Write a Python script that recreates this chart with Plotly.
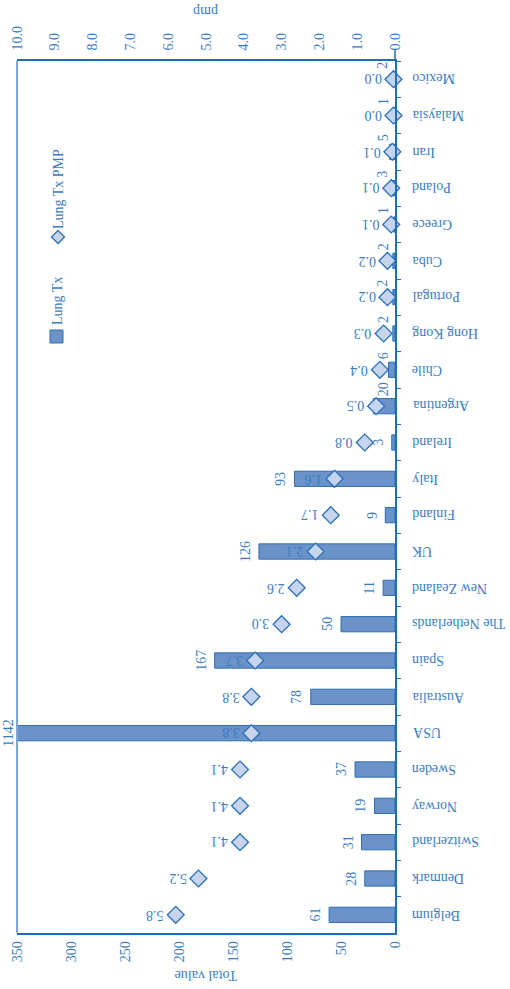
import plotly.graph_objects as go

# ---- data (top to bottom as drawn) ----
countries = ["Mexico", "Malaysia", "Iran", "Poland", "Greece", "Cuba", "Portugal",
             "Hong Kong", "Chile", "Argentina", "Ireland", "Italy", "Finland", "UK",
             "New Zealand", "The Netherlands", "Spain", "Australia", "USA", "Sweden",
             "Norway", "Switzerland", "Denmark", "Belgium"]
lung_tx = [2, 1, 5, 3, 1, 2, 2, 2, 6, 20, 3, 93, 9, 126, 11, 50, 167, 78, 1142, 37,
           19, 31, 28, 61]
lung_tx_pmp = [0.04, 0.04, 0.07, 0.1, 0.1, 0.2, 0.2, 0.3, 0.4, 0.5, 0.8, 1.6, 1.7, 2.1,
               2.6, 3.0, 3.7, 3.8, 3.8, 4.1, 4.1, 4.1, 5.2, 5.8]
total_ticks = [0, 50, 100, 150, 200, 250, 300, 350]
pmp_ticks = [0, 1, 2, 3, 4, 5, 6, 7, 8, 9, 10]

# ---- style ----
FONT = "Liberation Serif"
TXT = "#3a7cc2"
LINE = "#1f6fb8"
BAR_FILL = "#6b93c9"
BAR_LINE = "#2f6db3"
DIA_FILL = "#c6d4ee"
DIA_LINE = "#2a6fba"
FS = 14
X_MAX = 350
PMP_MAX = 10
raised = {"Mexico", "Malaysia", "Iran", "Poland", "Greece", "Cuba", "Portugal",
          "Hong Kong", "Chile", "Argentina"}
n = len(countries)

fig = go.Figure()
fig.add_trace(go.Bar(
    x=lung_tx, y=countries, orientation="h", width=0.42,
    marker=dict(color=BAR_FILL, line=dict(color=BAR_LINE, width=1)),
    name="Lung Tx", showlegend=False, hoverinfo="x+y"))
fig.add_trace(go.Scatter(
    x=lung_tx_pmp, y=countries, xaxis="x2", mode="markers",
    marker=dict(symbol="diamond", size=13, color=DIA_FILL,
                line=dict(color=DIA_LINE, width=1.3)),
    name="Lung Tx PMP", showlegend=False, cliponaxis=False))

ann = []
# category labels (upside down, right of axis)
for c in countries:
    ann.append(dict(text=c, x=1, xref="paper", y=c, yref="y", xanchor="left",
                    yanchor="middle", xshift=15, textangle=180, showarrow=False,
                    font=dict(family=FONT, size=FS, color=TXT)))
# bar value labels
for c, v in zip(countries, lung_tx):
    if c in raised:
        ann.append(dict(text=str(v), x=0, xref="x", y=c, yref="y", xanchor="center",
                        yanchor="bottom", xshift=-12, yshift=8, textangle=-90,
                        showarrow=False, font=dict(family=FONT, size=FS, color=TXT)))
    else:
        ann.append(dict(text=str(v), x=min(v, X_MAX), xref="x", y=c, yref="y",
                        xanchor="right", yanchor="middle",
                        xshift=(1 if v > X_MAX else -4), textangle=-90,
                        showarrow=False, font=dict(family=FONT, size=FS, color=TXT)))
# pmp labels
for c, p in zip(countries, lung_tx_pmp):
    ann.append(dict(text=f"{p:.1f}", x=p, xref="x2", y=c, yref="y", xanchor="right",
                    yanchor="middle", xshift=-10, textangle=180, showarrow=False,
                    font=dict(family=FONT, size=FS, color=TXT)))
# axis titles
ann.append(dict(text="Total value", x=0.5, xref="paper", y=0, yref="paper",
                yanchor="middle", yshift=-43, textangle=180, showarrow=False,
                font=dict(family=FONT, size=FS, color=TXT)))
ann.append(dict(text="pmp", x=0.5, xref="paper", y=1, yref="paper",
                yanchor="middle", yshift=49, textangle=180, showarrow=False,
                font=dict(family=FONT, size=FS, color=TXT)))
# legend texts
ann.append(dict(text="Lung Tx", x=0.1085, xref="paper", y=0.695, yref="paper",
                xanchor="center", yanchor="bottom", textangle=-90, showarrow=False,
                font=dict(family=FONT, size=FS, color=TXT)))
ann.append(dict(text="Lung Tx PMP", x=0.1085, xref="paper", y=0.805, yref="paper",
                xanchor="center", yanchor="bottom", textangle=-90, showarrow=False,
                font=dict(family=FONT, size=FS, color=TXT)))

shapes = [
    # left frame line
    dict(type="line", xref="paper", yref="paper", x0=0, x1=0, y0=0, y1=1,
         line=dict(color="#7aa8d8", width=2)),
    # category axis extension above the frame
    dict(type="line", xref="paper", yref="paper", x0=1, x1=1, y0=1, y1=1.013,
         line=dict(color=LINE, width=1.5)),
    # legend square
    dict(type="rect", xref="paper", yref="paper", x0=0.0873, x1=0.1217,
         y0=0.6766, y1=0.6915, fillcolor=BAR_FILL, line=dict(color=BAR_LINE, width=1)),
    # legend diamond
    dict(type="path", xref="paper", yref="paper",
         path="M 0.1085 0.8057 L 0.1257 0.7982 L 0.1085 0.7907 L 0.0913 0.7982 Z",
         fillcolor=DIA_FILL, line=dict(color=DIA_LINE, width=1.3)),
]

fig.update_layout(
    width=510, height=989,
    margin=dict(l=17, r=115, t=61, b=56, autoexpand=False),
    paper_bgcolor="white", plot_bgcolor="white",
    font=dict(family=FONT, size=FS, color=TXT),
    xaxis=dict(range=[X_MAX, 0], tickvals=total_ticks, tickangle=-90,
               showgrid=False, zeroline=False, showline=True, linecolor=LINE,
               linewidth=1.5, ticks="", ticklabelstandoff=1, automargin=False,
               tickfont=dict(family=FONT, size=FS, color=TXT)),
    xaxis2=dict(range=[PMP_MAX, 0], tickvals=pmp_ticks,
                ticktext=[f"{t:.1f}" for t in pmp_ticks], tickangle=-90,
                overlaying="x", side="top", anchor="y", showgrid=False,
                zeroline=False, showline=True, linecolor=LINE, linewidth=1.5,
                ticks="", ticklabelstandoff=6, automargin=False,
                tickfont=dict(family=FONT, size=FS, color=TXT)),
    yaxis=dict(categoryorder="array", categoryarray=countries,
               range=[n - 0.5, -0.5], autorange=False,
               side="right", showticklabels=False, showgrid=False, zeroline=False,
               showline=True, linecolor=LINE, linewidth=1.5, ticks="outside",
               tickson="boundaries", ticklen=4, tickcolor=LINE, tickwidth=1.2,
               automargin=False),
    annotations=ann, shapes=shapes, showlegend=False,
)

fig.write_html("out.html",
               config={"displayModeBar": False},
               post_script="document.body.style.margin='0';"
                           "document.body.style.padding='0';")
